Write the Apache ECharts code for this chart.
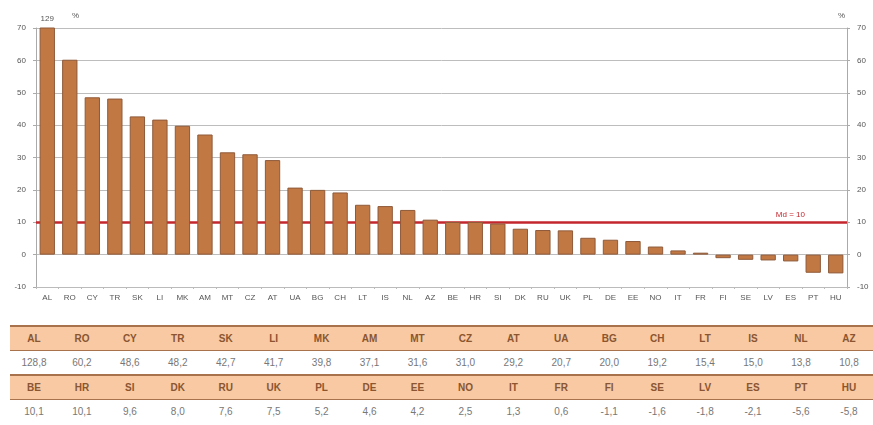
<!DOCTYPE html>
<html>
<head>
<meta charset="utf-8">
<script src="https://cdn.jsdelivr.net/npm/echarts@6/dist/echarts.min.js"></script>
<style>
  html, body { margin: 0; padding: 0; background: #fff; }
  #wrap { position: relative; width: 873px; height: 425px; overflow: hidden; }
  #chart { position: absolute; left: 0; top: 0; width: 873px; height: 320px; }
  #tbl { position: absolute; left: 10px; top: 325px; width: 863px; border-collapse: collapse; table-layout: fixed;
         font-family: "Liberation Sans Narrow", "Liberation Sans", Arial, sans-serif; }
  #tbl td { text-align: center; padding: 0; }
  #tbl tr.hd td { background: #f8c9a2; color: #8a5530; font-size: 10px; font-weight: bold; height: 23px;
                  border-top: 2px solid #a8724c; border-bottom: 1px solid #a8724c; }
  #tbl tr.vl td { background: #fff; color: #777; font-size: 10px; height: 23px; }
</style>
</head>
<body>
<div id="wrap">
  <div id="chart"></div>
  <table id="tbl"></table>
</div>
<script>
// Country codes, in descending order of change
const countries = ['AL','RO','CY','TR','SK','LI','MK','AM','MT','CZ','AT','UA','BG','CH','LT','IS','NL','AZ',
                   'BE','HR','SI','DK','RU','UK','PL','DE','EE','NO','IT','FR','FI','SE','LV','ES','PT','HU'];
// Change in percent
const changes = [128.8, 60.2, 48.6, 48.2, 42.7, 41.7, 39.8, 37.1, 31.6, 31.0, 29.2, 20.7, 20.0, 19.2, 15.4, 15.0, 13.8, 10.8,
                 10.1, 10.1, 9.6, 8.0, 7.6, 7.5, 5.2, 4.6, 4.2, 2.5, 1.3, 0.6, -1.1, -1.6, -1.8, -2.1, -5.6, -5.8];
// Median of all countries
const median = 10;
// Value axis ticks
const yTicks = [-10, 0, 10, 20, 30, 40, 50, 60, 70];

const yMin = yTicks[0], yMax = yTicks[yTicks.length - 1];
const fmtComma = v => v.toFixed(1).replace('.', ',');

// Table under the chart: two blocks of 18 countries
const tbl = document.getElementById('tbl');
const half = countries.length / 2;
for (let b = 0; b < 2; b++) {
  const hd = document.createElement('tr'); hd.className = 'hd';
  const vl = document.createElement('tr'); vl.className = 'vl';
  for (let i = b * half; i < (b + 1) * half; i++) {
    const h = document.createElement('td'); h.textContent = countries[i]; hd.appendChild(h);
    const v = document.createElement('td'); v.textContent = fmtComma(changes[i]); vl.appendChild(v);
  }
  tbl.appendChild(hd); tbl.appendChild(vl);
}

const axisLabelStyle = { color: '#555', fontSize: 8, fontFamily: 'Liberation Sans Narrow, Liberation Sans, sans-serif' };
const yAxisCommon = {
  type: 'value', min: yMin, max: yMax, interval: 10,
  axisLine: { show: true, lineStyle: { color: '#aaa', width: 1 } },
  axisTick: { show: true, length: 3, lineStyle: { color: '#aaa' } },
  splitLine: { show: true, lineStyle: { color: '#bdbdbd', width: 1 } },
  axisLabel: Object.assign({ margin: 10 }, axisLabelStyle),
  name: '%', nameGap: 8,
  nameTextStyle: Object.assign({}, axisLabelStyle)
};

const chart = echarts.init(document.getElementById('chart'), null, { renderer: 'canvas' });
chart.setOption({
  animation: false,
  backgroundColor: '#fff',
  grid: { left: 36, right: 26, top: 28, bottom: 33 },
  xAxis: {
    type: 'category', data: countries,
    axisLine: { onZero: false, lineStyle: { color: '#bbb' } },
    axisTick: { show: true, alignWithLabel: false, length: 2, lineStyle: { color: '#bbb' } },
    axisLabel: Object.assign({ interval: 0, margin: 7 }, axisLabelStyle)
  },
  yAxis: [
    Object.assign({}, yAxisCommon, { position: 'left',
      nameTextStyle: Object.assign({}, axisLabelStyle, { align: 'left', padding: [0, 0, 0, 36] }) }),
    Object.assign({}, yAxisCommon, { position: 'right', splitLine: { show: false },
      nameTextStyle: Object.assign({}, axisLabelStyle, { align: 'right', padding: [0, 2, 0, 0] }) })
  ],
  series: [
    {
      type: 'bar', data: changes.map((v, i) => i === 0 ? {
        value: v,
        label: { show: true, position: 'top', distance: 5, formatter: p => Math.round(p.value), color: '#555', fontSize: 8,
                 fontFamily: 'Liberation Sans Narrow, Liberation Sans, sans-serif' }
      } : v),
      barWidth: '68%', z: 3, clip: true,
      itemStyle: { color: '#c27843', borderColor: '#8e5a3a', borderWidth: 1 },
      markLine: {
        z: 1, silent: true, symbol: 'none',
        lineStyle: { color: '#c3262d', width: 2.5, type: 'solid' },
        label: { show: true, position: 'insideEndTop', formatter: 'Md = ' + median, color: '#c3262d', fontSize: 8,
                 fontFamily: 'Liberation Sans Narrow, Liberation Sans, sans-serif', distance: [42, 3] },
        data: [{ yAxis: median }]
      }
    }
  ]
});
</script>
</body>
</html>
